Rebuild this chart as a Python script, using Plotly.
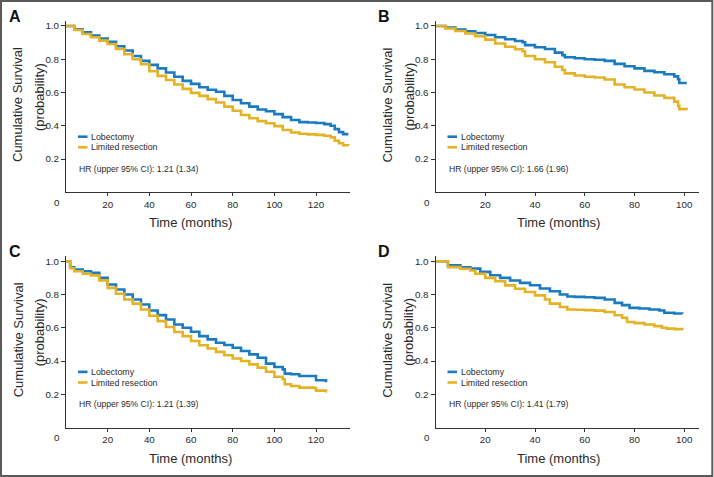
import plotly.graph_objects as go

# ---------------- data ----------------
A_lob_t = [0, 4, 8, 12, 16, 20, 24, 28, 32, 36, 40, 44, 48, 52, 56, 60, 64, 68, 72, 76, 80, 84, 88, 92, 96, 100, 104, 108, 112, 116, 120, 124, 127, 129, 131, 133, 135.5]
A_lob_s = [1.0, 0.98, 0.962, 0.942, 0.925, 0.905, 0.878, 0.853, 0.82, 0.79, 0.766, 0.745, 0.72, 0.695, 0.67, 0.652, 0.632, 0.617, 0.605, 0.58, 0.555, 0.535, 0.515, 0.498, 0.487, 0.47, 0.452, 0.435, 0.422, 0.42, 0.417, 0.41, 0.40, 0.38, 0.362, 0.35, 0.35]
A_lim_t = [0, 4, 8, 12, 16, 20, 24, 28, 32, 36, 40, 44, 48, 52, 56, 60, 64, 68, 72, 76, 80, 84, 88, 92, 96, 100, 104, 108, 112, 116, 120, 124, 127, 129, 131, 133, 135.5]
A_lim_s = [1.0, 0.976, 0.952, 0.932, 0.912, 0.892, 0.862, 0.83, 0.80, 0.77, 0.728, 0.70, 0.675, 0.648, 0.622, 0.598, 0.58, 0.56, 0.54, 0.515, 0.49, 0.465, 0.445, 0.428, 0.415, 0.398, 0.375, 0.36, 0.352, 0.348, 0.345, 0.34, 0.33, 0.31, 0.295, 0.283, 0.28]

B_lob_t = [0, 4, 8, 12, 16, 20, 24, 28, 32, 35, 36, 40, 44, 48, 51, 52, 56, 60, 64, 68, 72, 76, 80, 84, 88, 92, 96, 97.5, 98, 101]
B_lob_s = [1.0, 0.99, 0.978, 0.968, 0.958, 0.946, 0.932, 0.92, 0.91, 0.902, 0.885, 0.872, 0.862, 0.84, 0.825, 0.812, 0.806, 0.80, 0.797, 0.79, 0.772, 0.758, 0.745, 0.73, 0.722, 0.71, 0.697, 0.68, 0.657, 0.657]
B_lim_t = [0, 4, 8, 12, 16, 20, 24, 28, 32, 35, 36, 40, 44, 48, 51, 52, 56, 60, 64, 68, 72, 76, 80, 84, 88, 92, 96, 97.5, 98, 101]
B_lim_s = [1.0, 0.985, 0.97, 0.955, 0.938, 0.918, 0.895, 0.875, 0.86, 0.848, 0.82, 0.80, 0.782, 0.755, 0.735, 0.715, 0.702, 0.695, 0.69, 0.678, 0.648, 0.632, 0.618, 0.60, 0.582, 0.568, 0.545, 0.52, 0.50, 0.497]

C_lob_t = [0, 2, 4, 8, 12, 16, 20, 24, 28, 32, 36, 40, 44, 48, 52, 56, 60, 64, 68, 72, 76, 80, 84, 88, 92, 96, 100, 104, 105, 108, 112, 119.2, 120, 124.8]
C_lob_s = [1.0, 0.964, 0.95, 0.94, 0.93, 0.90, 0.86, 0.83, 0.80, 0.77, 0.74, 0.704, 0.676, 0.65, 0.62, 0.60, 0.576, 0.55, 0.53, 0.51, 0.496, 0.48, 0.46, 0.44, 0.42, 0.384, 0.364, 0.35, 0.324, 0.32, 0.31, 0.31, 0.284, 0.272]
C_lim_t = [0, 2, 4, 8, 12, 16, 20, 24, 28, 32, 36, 40, 44, 48, 52, 56, 60, 64, 68, 72, 76, 80, 84, 88, 92, 96, 100, 104, 105, 108, 112, 119.2, 120, 124.8]
C_lim_s = [1.0, 0.958, 0.94, 0.925, 0.915, 0.885, 0.84, 0.805, 0.77, 0.745, 0.71, 0.672, 0.64, 0.605, 0.575, 0.55, 0.52, 0.495, 0.475, 0.455, 0.435, 0.415, 0.40, 0.38, 0.36, 0.335, 0.305, 0.29, 0.26, 0.25, 0.24, 0.238, 0.222, 0.21]

D_lob_t = [0, 5, 10, 14, 18, 22, 26, 30, 34, 38, 42, 46, 50, 53, 56, 60, 64, 68, 72, 75, 78, 82, 86, 90, 92, 96, 99.2]
D_lob_s = [1.0, 0.976, 0.964, 0.956, 0.936, 0.916, 0.90, 0.884, 0.87, 0.856, 0.836, 0.82, 0.80, 0.788, 0.786, 0.784, 0.78, 0.77, 0.75, 0.736, 0.72, 0.716, 0.71, 0.704, 0.69, 0.686, 0.684]
D_lim_t = [0, 5, 10, 14, 16, 20, 24, 28, 32, 36, 40, 44, 46, 50, 53, 56, 60, 64, 68, 72, 75, 77, 80, 84, 88, 91, 93, 96, 99.2]
D_lim_s = [1.0, 0.965, 0.955, 0.945, 0.925, 0.90, 0.88, 0.855, 0.835, 0.815, 0.795, 0.77, 0.745, 0.725, 0.71, 0.708, 0.706, 0.703, 0.695, 0.675, 0.66, 0.635, 0.628, 0.62, 0.61, 0.60, 0.595, 0.592, 0.585]

panel_letters = ["A", "B", "C", "D"]
hr_texts = ["HR (upper 95% CI): 1.21 (1.34)", "HR (upper 95% CI): 1.66 (1.96)",
            "HR (upper 95% CI): 1.21 (1.39)", "HR (upper 95% CI): 1.41 (1.79)"]
series_names = ["Lobectomy", "Limited resection"]
x_max = [136.3, 105.8, 136.3, 105.8]
x_ticks = [[20, 40, 60, 80, 100, 120], [20, 40, 60, 80, 100],
           [20, 40, 60, 80, 100, 120], [20, 40, 60, 80, 100]]
y_ticks = [0.2, 0.4, 0.6, 0.8, 1.0]
x_title = "Time (months)"
y_title_1 = "Cumulative Survival"
y_title_2 = "(probability)"

curves = [
    (A_lob_t, A_lob_s, A_lim_t, A_lim_s),
    (B_lob_t, B_lob_s, B_lim_t, B_lim_s),
    (C_lob_t, C_lob_s, C_lim_t, C_lim_s),
    (D_lob_t, D_lob_s, D_lim_t, D_lim_s),
]

# ---------------- styling / layout ----------------
W, H = 714, 477
BLUE = "#1a7bc0"
YELLOW = "#e4b325"
AX = "#333333"
TXT = "#2a2a2a"
REG = "Liberation Sans, Arial, Helvetica, sans-serif"
TICK_SIZE = 9.8
TITLE_SIZE = 13

# pixel geometry of each plot area: (left, right, top, bottom)
boxes = [(66, 350, 21, 192.3), (435.5, 698.7, 21, 192.3),
         (66, 350, 256.3, 427.5), (435.5, 698.7, 256.3, 427.5)]

def px(x):
    return x / W

def py(y):
    return 1 - y / H

fig = go.Figure()
layout = dict(width=W, height=H, margin=dict(l=0, r=0, t=0, b=0),
              paper_bgcolor="white", plot_bgcolor="white", showlegend=False)
annotations = []
shapes = []

for i, (l, r, t, b) in enumerate(boxes):
    sfx = "" if i == 0 else str(i + 1)
    xa, ya = "x" + sfx, "y" + sfx
    lt, ls, mt, ms = curves[i]
    fig.add_trace(go.Scatter(x=lt, y=ls, mode="lines", line=dict(color=BLUE, width=2.6, shape="hv"),
                             name=series_names[0], xaxis=xa, yaxis=ya))
    fig.add_trace(go.Scatter(x=mt, y=ms, mode="lines", line=dict(color=YELLOW, width=2.6, shape="hv"),
                             name=series_names[1], xaxis=xa, yaxis=ya))
    layout["xaxis" + sfx] = dict(domain=[px(l), px(r)], range=[0, x_max[i]], anchor=ya,
                                 showgrid=False, zeroline=False, showline=True, linecolor=AX, linewidth=1,
                                 ticks="outside", ticklen=3, tickcolor=AX, tickwidth=1,
                                 tickvals=x_ticks[i], tickfont=dict(family=REG, size=TICK_SIZE, color=TXT))
    layout["yaxis" + sfx] = dict(domain=[py(b), py(t)], range=[0, 1.03], anchor=xa,
                                 showgrid=False, zeroline=False, showline=True, linecolor=AX, linewidth=1,
                                 ticks="outside", ticklen=4, tickcolor=AX, tickwidth=1,
                                 tickvals=y_ticks, tickformat=".1f",
                                 tickfont=dict(family=REG, size=TICK_SIZE, color=TXT))
    # "0" origin label
    annotations.append(dict(text="0", xref="paper", yref="paper", x=px(l - 9), y=py(b + 10),
                            showarrow=False, xanchor="center", yanchor="middle",
                            font=dict(family=REG, size=TICK_SIZE, color=TXT)))
    # panel letter
    annotations.append(dict(text="<b>%s</b>" % panel_letters[i], xref="paper", yref="paper",
                            x=px(l - 51.5), y=py(t - 5), showarrow=False, xanchor="center", yanchor="middle",
                            font=dict(family=REG, size=16, color="#111111")))
    # axis titles
    annotations.append(dict(text=x_title, xref="paper", yref="paper", x=px(l + 124 if i % 2 == 0 else l + 123),
                            y=py(b + 30.5), showarrow=False, xanchor="center", yanchor="middle",
                            font=dict(family=REG, size=TITLE_SIZE, color=TXT)))
    annotations.append(dict(text=y_title_1, xref="paper", yref="paper", x=px(l - 48), y=py(t + 84),
                            textangle=-90, showarrow=False, xanchor="center", yanchor="middle",
                            font=dict(family=REG, size=TITLE_SIZE, color=TXT)))
    annotations.append(dict(text=y_title_2, xref="paper", yref="paper", x=px(l - 27), y=py(t + 76),
                            textangle=-90, showarrow=False, xanchor="center", yanchor="middle",
                            font=dict(family=REG, size=TITLE_SIZE, color=TXT)))
    # legend
    leg_y = [b - 55.6, b - 45]
    for k, (nm, col) in enumerate(zip(series_names, [BLUE, YELLOW])):
        shapes.append(dict(type="line", xref="paper", yref="paper", x0=px(l + 12), x1=px(l + 21.5),
                           y0=py(leg_y[k]), y1=py(leg_y[k]), line=dict(color=col, width=2.6)))
        annotations.append(dict(text=nm, xref="paper", yref="paper", x=px(l + 23), y=py(leg_y[k]),
                                showarrow=False, xanchor="left", yanchor="middle",
                                font=dict(family=REG, size=8.8, color=TXT)))
    annotations.append(dict(text=hr_texts[i], xref="paper", yref="paper", x=px(l + 11), y=py(b - 23.5),
                            showarrow=False, xanchor="left", yanchor="middle",
                            font=dict(family=REG, size=8.6, color=TXT)))

# outer frame
shapes.append(dict(type="rect", xref="paper", yref="paper", x0=px(1), x1=px(712.3), y0=py(476), y1=py(1),
                   line=dict(color="#5a5a5a", width=2), fillcolor="rgba(0,0,0,0)"))

layout["annotations"] = annotations
layout["shapes"] = shapes
fig.update_layout(**layout)
fig.write_html("out.html", config={"displayModeBar": False, "staticPlot": True},
               post_script="document.body.style.margin='0';document.body.style.overflow='hidden';")
